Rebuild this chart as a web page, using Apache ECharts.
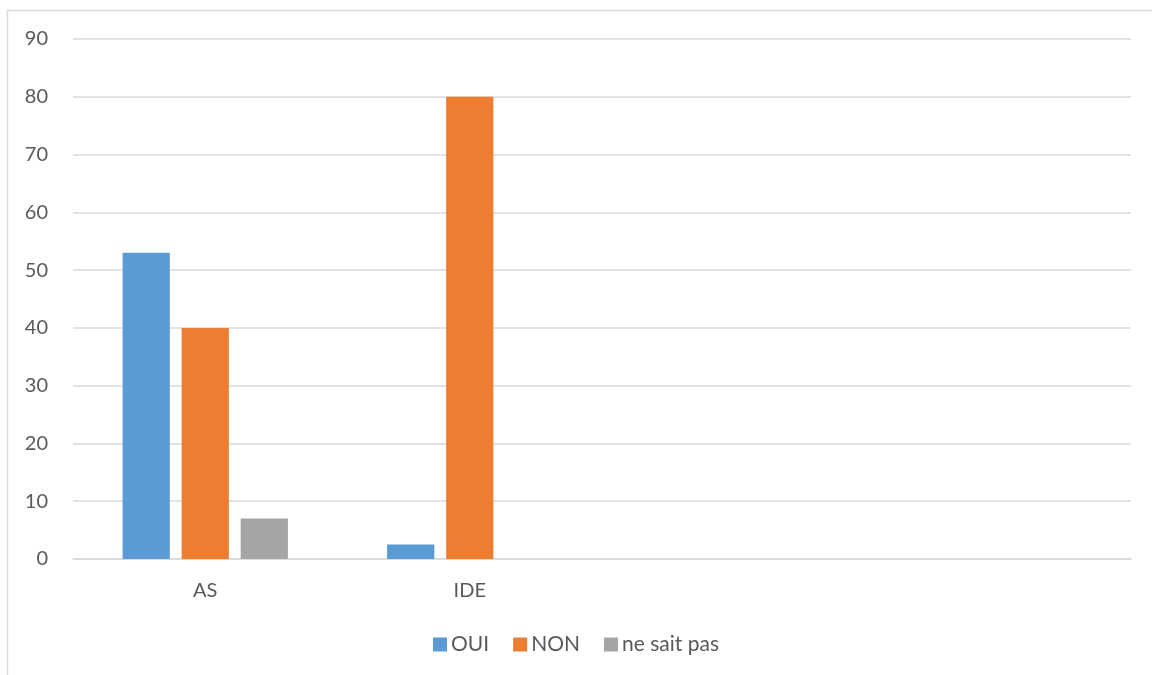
<!DOCTYPE html>
<html>
<head>
<meta charset="utf-8">
<script src="https://cdn.jsdelivr.net/npm/echarts@6/dist/echarts.min.js"></script>
<style>
  html, body { margin: 0; padding: 0; background: #fff; }
  #chart { width: 1152px; height: 675px; }
</style>
</head>
<body>
<div id="chart"></div>
<script>
// Categories (the last two slots are empty columns of the sheet)
const categories = ['AS', 'IDE', '', ''];
const seriesNames = ['OUI', 'NON', 'ne sait pas'];
const ouiValues = [53, 2.5, null, null];
const nonValues = [40, 80, null, null];
const nspValues = [7, null, null, null];
const colors = ['#5B9BD5', '#ED7D31', '#A5A5A5'];

const textColor = '#595959';
const fontFamily = 'Lato, "Open Sans", sans-serif';

const chart = echarts.init(document.getElementById('chart'), null, { renderer: 'canvas' });

const valueSets = [ouiValues, nonValues, nspValues];

chart.setOption({
  animation: false,
  color: colors,
  textStyle: { fontFamily: fontFamily, color: textColor },
  graphic: [{
    type: 'rect',
    shape: { x: 7.5, y: 10.5, width: 1200, height: 700 },
    style: { fill: 'none', stroke: '#d9d9d9', lineWidth: 1.5 },
    silent: true
  }],
  grid: { left: 73, right: 21, top: 39, bottom: 116, containLabel: false },
  legend: {
    bottom: 15,
    left: 'center',
    itemWidth: 14,
    itemHeight: 14,
    itemGap: 24,
    icon: 'rect',
    textStyle: { fontSize: 21, color: textColor, fontFamily: fontFamily, padding: [0, 0, 0, -1] },
    data: seriesNames
  },
  xAxis: {
    type: 'category',
    data: categories,
    axisLine: { show: true, lineStyle: { color: '#d9d9d9', width: 1.5 } },
    axisTick: { show: false },
    axisLabel: { fontSize: 20, color: textColor, margin: 22 },
    splitLine: { show: false }
  },
  yAxis: {
    type: 'value',
    min: 0,
    max: 90,
    interval: 10,
    axisLine: { show: false },
    axisTick: { show: false },
    axisLabel: { fontSize: 20, color: textColor, margin: 25 },
    splitLine: { lineStyle: { color: '#d9d9d9', width: 1.5 } }
  },
  series: seriesNames.map((name, i) => ({
    name: name,
    type: 'bar',
    data: valueSets[i],
    barGap: '25%',
    barCategoryGap: '37.5%',
    itemStyle: { color: colors[i] }
  }))
});
</script>
</body>
</html>
